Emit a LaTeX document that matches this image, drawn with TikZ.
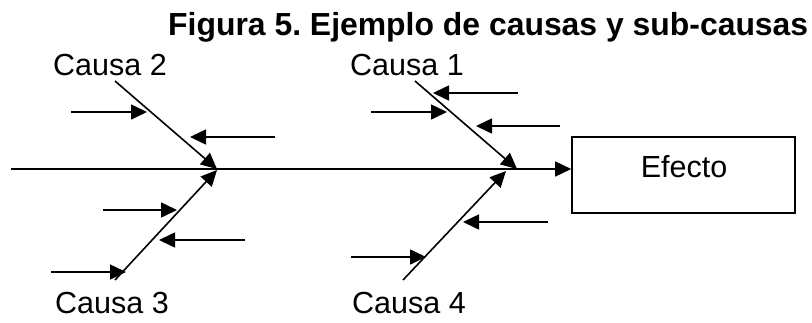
\documentclass[tikz,border=0pt]{standalone}
\usepackage{fontspec}
\setmainfont{Liberation Sans}
\usetikzlibrary{arrows.meta}
\begin{document}
\frenchspacing
\begin{tikzpicture}[x=1pt,y=-1pt,
  ln/.style={line width=1.6pt},
  arr/.style={ln,-{Triangle[length=16pt,width=15pt]}},
  lbl/.style={inner sep=0pt,anchor=base west,font=\fontsize{30.5}{36}\selectfont},
  ttl/.style={inner sep=0pt,anchor=base west,font=\fontsize{31.9}{38}\selectfont\bfseries},
  box/.style={draw,line width=1.6pt,minimum width=223pt,minimum height=76pt,inner sep=0pt}]
\useasboundingbox (0,0) rectangle (812,322);
% title
\node[ttl] (title) at (168,35) {Figura 5. Ejemplo de causas y sub-causas};
% effect
\node[box] (efecto) at (683.5,175) {};
\node[lbl,anchor=base] (eftxt) at (684,177) {Efecto};
% spine
\coordinate (s0) at (11,169);
\draw[arr] (s0) -- (efecto.west |- s0);
% bones
\coordinate (b2a) at (115,81);  \coordinate (b2b) at (217,169);
\coordinate (b3a) at (115,280); \coordinate (b3b) at (217,170);
\coordinate (b1a) at (415,81);  \coordinate (b1b) at (517,169);
\coordinate (b4a) at (403,280); \coordinate (b4b) at (506,171);
\draw[arr] (b2a) -- (b2b);
\draw[arr] (b3a) -- (b3b);
\draw[arr] (b1a) -- (b1b);
\draw[arr] (b4a) -- (b4b);
% sub-causes
\coordinate (p1a) at (71,112);  \coordinate (p1b) at (147,112);
\coordinate (p2a) at (275,137); \coordinate (p2b) at (190,137);
\coordinate (p3a) at (103,210); \coordinate (p3b) at (177,210);
\coordinate (p4a) at (245,240); \coordinate (p4b) at (159,240);
\coordinate (p5a) at (51,272);  \coordinate (p5b) at (126,272);
\coordinate (q1a) at (518,93);  \coordinate (q1b) at (433,93);
\coordinate (q2a) at (371,112); \coordinate (q2b) at (447,112);
\coordinate (q3a) at (560,126); \coordinate (q3b) at (476,126);
\coordinate (q4a) at (548,222); \coordinate (q4b) at (463,222);
\coordinate (q5a) at (351,257); \coordinate (q5b) at (426,257);
\foreach \a/\b in {p1a/p1b,p2a/p2b,p3a/p3b,p4a/p4b,p5a/p5b,q1a/q1b,q2a/q2b,q3a/q3b,q4a/q4b,q5a/q5b}
  \draw[arr] (\a) -- (\b);
% labels
\node[lbl] (c2) at (53,75) {Causa 2};
\node[lbl] (c1) at (350,75) {Causa 1};
\node[lbl] (c3) at (55,313) {Causa 3};
\node[lbl] (c4) at (352,313) {Causa 4};
\end{tikzpicture}
\end{document}
